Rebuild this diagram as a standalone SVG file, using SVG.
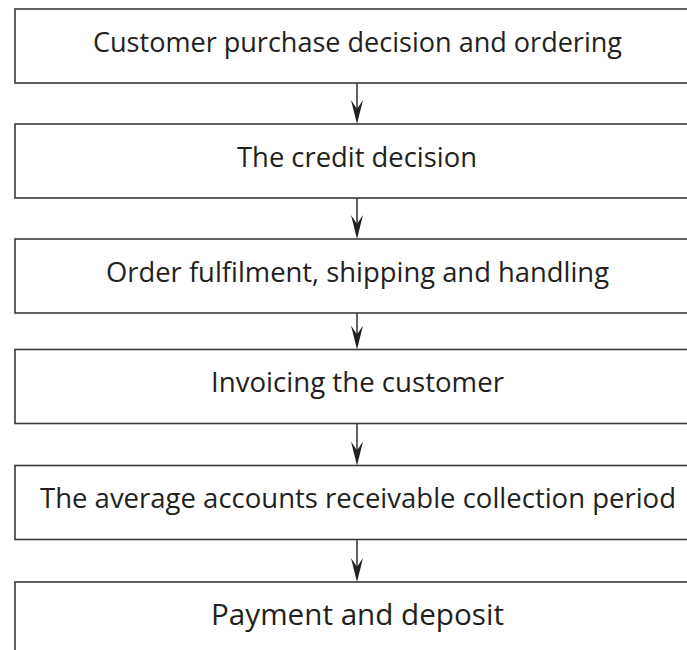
<svg xmlns="http://www.w3.org/2000/svg" width="687" height="650" viewBox="0 0 687 650">
  <defs>
    <style>
      .box { fill: #ffffff; stroke: #3a3a3a; stroke-width: 1.6; }
      .lbl { font-family: "Open Sans", "Noto Sans", "Liberation Sans", sans-serif; font-size: 26.5px; fill: #231f20; text-anchor: middle; }
      .big { font-size: 30px; }
      .conn { stroke: #231f20; stroke-width: 1.4; fill: none; }
      .head { fill: #231f20; stroke: none; }
    </style>
    <path id="ah" d="M0,0 L-6,-24 L0,-15 L6,-24 Z"/>
  </defs>
  <rect width="687" height="650" fill="#ffffff"/>
  <g id="connectors">
    <line class="conn" x1="357" y1="83" x2="357" y2="110"/>
    <use href="#ah" class="head" x="357" y="124"/>
    <line class="conn" x1="357" y1="198" x2="357" y2="225"/>
    <use href="#ah" class="head" x="357" y="239"/>
    <line class="conn" x1="357" y1="313" x2="357" y2="336"/>
    <use href="#ah" class="head" x="357" y="349.5"/>
    <line class="conn" x1="357" y1="423.5" x2="357" y2="452"/>
    <use href="#ah" class="head" x="357" y="465.5"/>
    <line class="conn" x1="357" y1="539.5" x2="357" y2="568"/>
    <use href="#ah" class="head" x="357" y="582"/>
  </g>
  <g id="n1">
    <rect class="box" x="15" y="9" width="700" height="74"/>
    <text class="lbl" x="357.5" y="51.5" textLength="529" lengthAdjust="spacingAndGlyphs">Customer purchase decision and ordering</text>
  </g>
  <g id="n2">
    <rect class="box" x="15" y="124" width="700" height="74"/>
    <text class="lbl" x="357" y="166.5" textLength="240" lengthAdjust="spacingAndGlyphs">The credit decision</text>
  </g>
  <g id="n3">
    <rect class="box" x="15" y="239" width="700" height="74"/>
    <text class="lbl" x="357.5" y="281.5" textLength="503" lengthAdjust="spacingAndGlyphs">Order fulfilment, shipping and handling</text>
  </g>
  <g id="n4">
    <rect class="box" x="15" y="349.5" width="700" height="74"/>
    <text class="lbl" x="357.5" y="392" textLength="293" lengthAdjust="spacingAndGlyphs">Invoicing the customer</text>
  </g>
  <g id="n5">
    <rect class="box" x="15" y="465.5" width="700" height="74"/>
    <text class="lbl" x="358" y="508" textLength="636" lengthAdjust="spacingAndGlyphs">The average accounts receivable collection period</text>
  </g>
  <g id="n6">
    <rect class="box" x="15" y="582" width="700" height="100"/>
    <text class="lbl big" x="357.5" y="625" textLength="293" lengthAdjust="spacingAndGlyphs">Payment and deposit</text>
  </g>
</svg>
